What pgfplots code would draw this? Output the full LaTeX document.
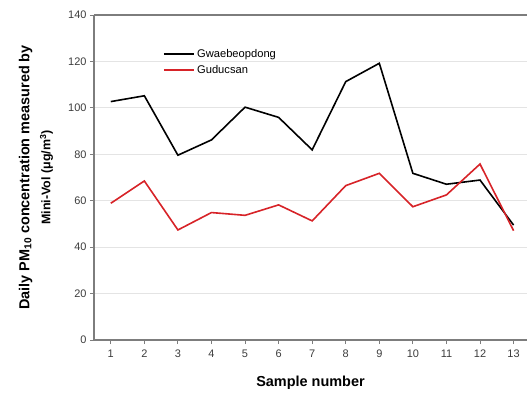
\documentclass[border=0pt]{standalone}
\usepackage{pgfplots}
\pgfplotsset{compat=1.18}
\usepackage{fontspec}
\setmainfont{Liberation Sans}
\definecolor{axgray}{RGB}{125,125,125}
\definecolor{gridgray}{RGB}{228,228,228}
\definecolor{redline}{RGB}{215,35,40}
\definecolor{ticktext}{RGB}{60,60,60}
\begin{document}
\begin{tikzpicture}
\begin{axis}[
  scale only axis,
  width=433bp, height=325bp,
  xmin=0.5, xmax=13.4,
  ymin=0, ymax=140,
  xtick={1,...,13},
  ytick={0,20,...,140},
  axis x line*=bottom, axis y line*=left,
  axis line style={axgray, line width=1.4bp},
  tick style={axgray, line width=0.9bp},
  tick align=outside,
  major tick length=4bp,
  ymajorgrids,
  grid style={gridgray, line width=0.8bp},
  tick label style={font=\fontsize{11}{13}\selectfont, text=ticktext},
  xticklabel style={yshift=-2bp},
  /pgf/number format/assume math mode=true,
  xlabel={\bfseries Sample number},
  xlabel style={font=\fontsize{14.5}{16}\selectfont, at={(axis description cs:0.5,-0.1323)}, anchor=center},
  ylabel={\bfseries\begin{tabular}{@{}c@{}}\fontsize{14.5}{16}\selectfont Daily PM$_{\mathbf{10}}$ concentration measured by\\[7bp]\fontsize{12.5}{15}\selectfont Mini-Vol (μg/m$^{\mathbf{3}}$)\end{tabular}},
  ylabel style={at={(axis description cs:-0.133,0.5)}, anchor=center},
  legend style={draw=none, fill=none, inner sep=0pt, at={(axis description cs:0.159,0.905)}, anchor=north west, font=\fontsize{11.2}{13}\selectfont, nodes={inner ysep=2bp, inner xsep=2.5bp, text height=9bp, text depth=3bp}},
  legend cell align=left,
  legend image code/.code={\draw[#1, line width=1.6bp] (0bp,0bp) -- (30bp,0bp);},
  after end axis/.code={\draw[axgray, line width=1.4bp] (rel axis cs:0,1) -- (rel axis cs:1,1);},
  clip=false,
]
\addplot[black, line width=1.6bp, mark=none] coordinates {
(1,102.7) (2,105.2) (3,79.6) (4,86.2) (5,100.3) (6,95.9) (7,81.9) (8,111.3) (9,119.2) (10,71.8) (11,67.1) (12,68.9) (13,49.5)};
\addlegendentry{Gwaebeopdong}
\addplot[redline, line width=1.6bp, mark=none] coordinates {
(1,58.9) (2,68.5) (3,47.4) (4,54.9) (5,53.7) (6,58.2) (7,51.3) (8,66.5) (9,71.8) (10,57.4) (11,62.5) (12,75.8) (13,47.1)};
\addlegendentry{Guducsan}
\end{axis}
\pgfresetboundingbox
\path ([xshift=-94bp,yshift=-54bp]current axis.south west) rectangle ([yshift=15bp]current axis.north east);
\end{tikzpicture}
\end{document}
